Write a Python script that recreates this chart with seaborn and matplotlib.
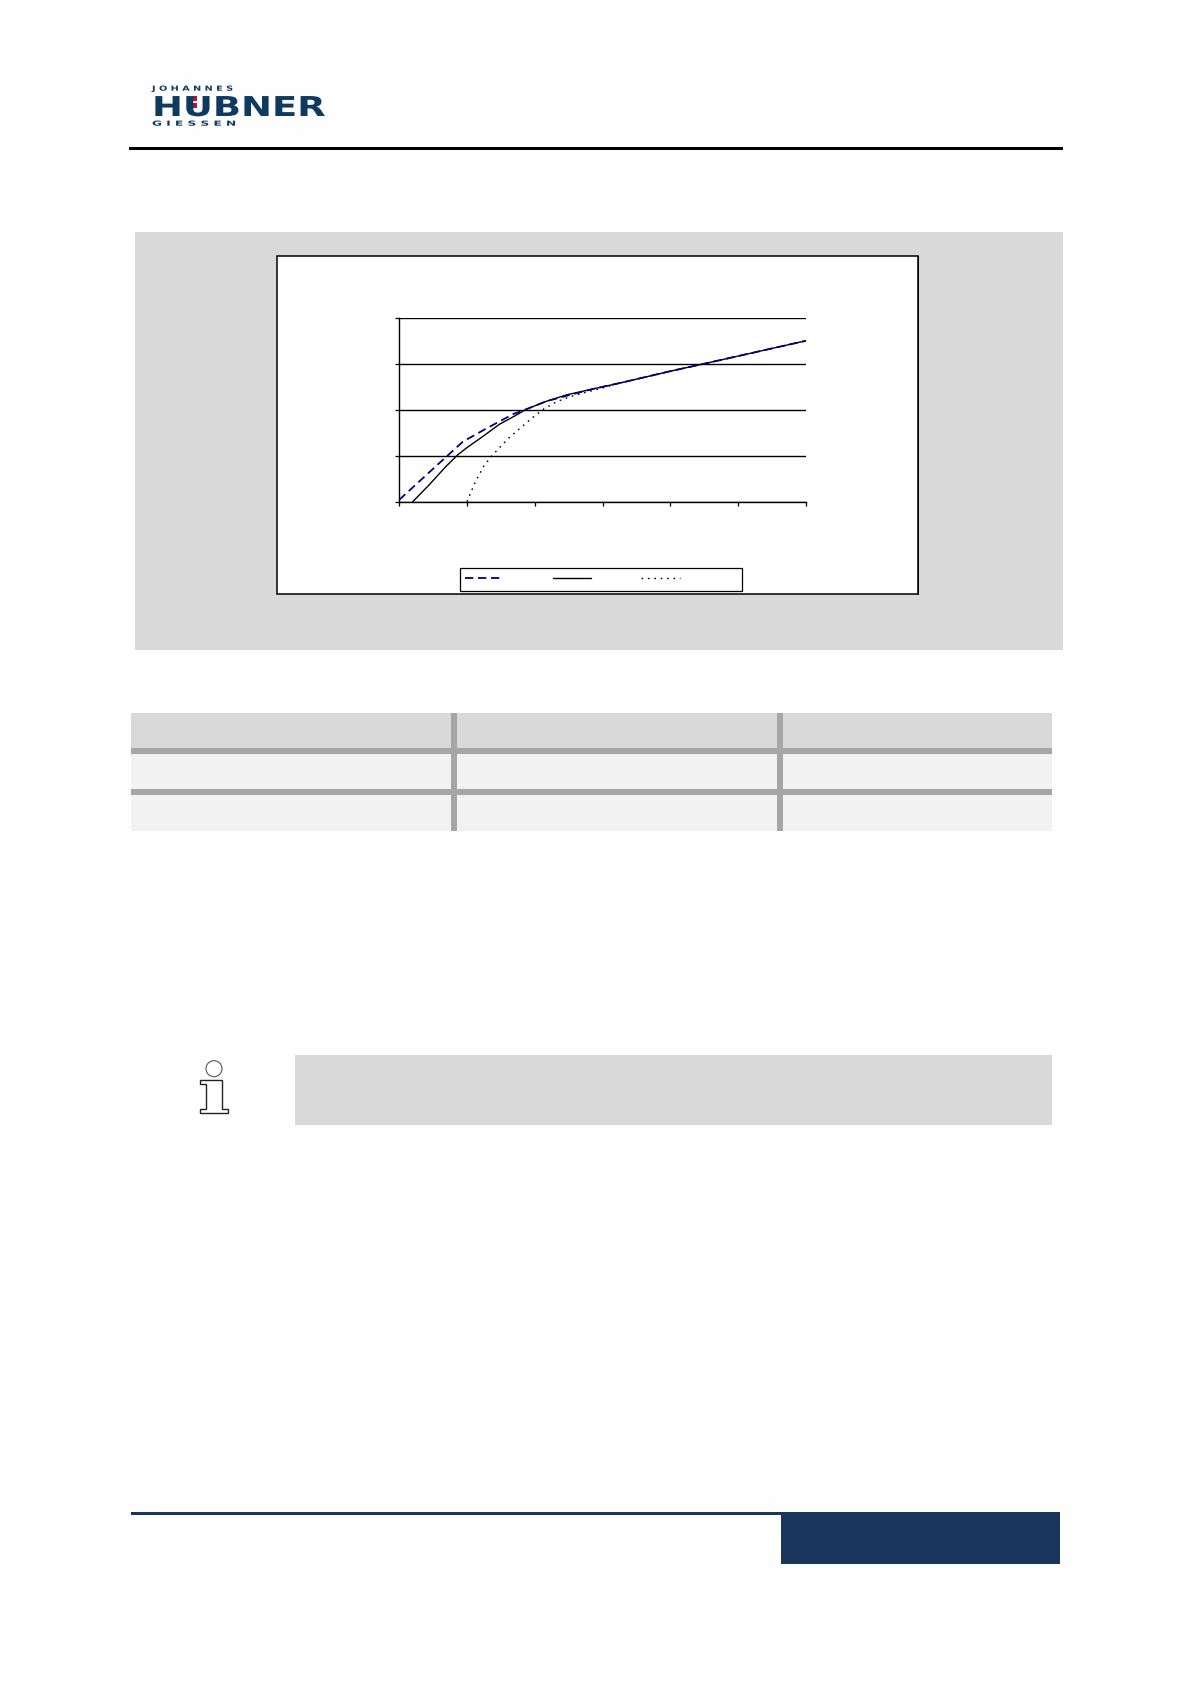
import matplotlib
matplotlib.use("Agg")
import matplotlib.pyplot as plt
import pandas as pd
import seaborn as sns
from matplotlib.patches import Circle, Polygon, Rectangle
from matplotlib.patheffects import AbstractPathEffect
from matplotlib.transforms import Affine2D

W, H = 1191, 1684
NAVY = "#1a365d"
LOGO = "#0f3a60"

x_ticks = [0, 1, 2, 3, 4, 5, 6]
y_ticks = [0, 1, 2, 3, 4]

dashed_x = [0, 0.25, 0.62, 0.94, 1.29, 1.68, 1.88, 2.17, 2.47, 2.86, 3.26, 4.01, 4.47, 6.0]
dashed_y = [0.04, 0.38, 0.88, 1.31, 1.60, 1.91, 2.02, 2.19, 2.31, 2.46, 2.59, 2.85, 3.0, 3.51]
solid_x = [0.20, 0.45, 0.69, 0.87, 1.0, 1.24, 1.48, 1.68, 1.88, 2.17, 2.47, 2.86, 3.26, 4.01, 4.47, 6.0]
solid_y = [0, 0.38, 0.77, 1.03, 1.18, 1.43, 1.69, 1.85, 2.02, 2.19, 2.33, 2.46, 2.59, 2.85, 3.0, 3.51]
dotted_x = [1.0, 1.11, 1.24, 1.36, 1.48, 1.61, 1.78, 1.98, 2.12, 2.32, 2.52, 2.76, 3.05, 3.26, 4.01, 4.47, 6.0]
dotted_y = [0, 0.39, 0.76, 0.99, 1.18, 1.38, 1.60, 1.85, 2.01, 2.18, 2.29, 2.39, 2.50, 2.59, 2.85, 3.0, 3.51]


class StretchX(AbstractPathEffect):
    # the logo lettering is wider than any installed font
    def __init__(self, factor):
        super().__init__()
        self.factor = factor

    def draw_path(self, renderer, gc, tpath, affine, rgbFace=None):
        renderer.draw_path(gc, tpath, Affine2D().scale(self.factor, 1) + affine, rgbFace)


def box(ax, x0, y0, x1, y1, color, **kwargs):
    ax.add_patch(Rectangle((x0, y0), x1 - x0, y1 - y0, facecolor=color, edgecolor="none", **kwargs))


sns.set_theme(style="white")
fig = plt.figure(figsize=(W / 100, H / 100), dpi=100, facecolor="#fefefe")

# page furniture, drawn in pixel coordinates
page = fig.add_axes([0, 0, 1, 1], zorder=0)
page.set_xlim(0, W)
page.set_ylim(H, 0)
page.axis("off")

box(page, 129, 147, 1063, 150, "black")
box(page, 135, 232, 1063, 650, "#d9d9d9")
page.add_patch(Rectangle((276.5, 255.5), 641.5, 338.5, facecolor="white", edgecolor="black", linewidth=1.1))
box(page, 917.5, 256, 919, 595, "black")
page.add_patch(Rectangle((459.5, 567.5), 282, 23, facecolor="white", edgecolor="black", linewidth=0.9))

box(page, 131, 713, 1052, 748, "#d9d9d9")
box(page, 131, 754, 1052, 789, "#f2f2f2")
box(page, 131, 795, 1052, 831, "#f2f2f2")
box(page, 131, 748, 1052, 754, "#a6a6a6")
box(page, 131, 789, 1052, 795, "#a6a6a6")
box(page, 451, 713, 457, 831, "#a6a6a6")
box(page, 777, 713, 783, 831, "#a6a6a6")

box(page, 295, 1055, 1052, 1125, "#d9d9d9")
page.add_patch(Circle((214, 1068.7), 8, facecolor="white", edgecolor="#555555", linewidth=0.8))
icon = [(200.3, 1080.3), (221.7, 1080.3), (221.7, 1109.3), (227.7, 1109.3), (227.7, 1113.3),
        (200.3, 1113.3), (200.3, 1109.3), (206.3, 1109.3), (206.3, 1084.3), (200.3, 1084.3)]
page.add_patch(Polygon(icon, closed=True, facecolor="white", edgecolor="#222222", linewidth=1.0))

box(page, 131, 1512, 781, 1515, NAVY)
box(page, 781, 1512, 1060, 1564, NAVY)

page.text(152, 90.7, "J O H A N N E S", color=LOGO, fontsize=5, fontweight="bold", va="baseline",
          family="DejaVu Sans", path_effects=[StretchX(1.4)])
page.text(152, 125.7, "G I E S S E N", color=LOGO, fontsize=5, fontweight="bold", va="baseline",
          family="DejaVu Sans", path_effects=[StretchX(1.75)])
logo = page.text(152, 116, "HÜBNER", color=LOGO, fontsize=19.7, fontweight="bold", va="baseline",
                 family="DejaVu Sans", clip_on=True, path_effects=[StretchX(1.35)])
logo.set_clip_path(Rectangle((140, 96), 200, 22, transform=page.transData))
box(page, 191.5, 96, 196.5, 101, "#b3123f")
box(page, 191.5, 102.5, 196.5, 107.5, "#b3123f")

# the chart itself
left, right, top, bottom = 399.2, 806, 318.3, 501.7
ax = fig.add_axes([left / W, 1 - bottom / H, (right - left) / W, (bottom - top) / H], zorder=1)
ax.patch.set_alpha(0)

dashed = pd.DataFrame({"x": dashed_x, "y": dashed_y})
solid = pd.DataFrame({"x": solid_x, "y": solid_y})
dotted = pd.DataFrame({"x": dotted_x, "y": dotted_y})

# solid goes first so the dashes stay visible where the three curves merge
sns.lineplot(data=solid, x="x", y="y", ax=ax, color="black", linewidth=1.0,
             estimator=None, sort=False)
sns.lineplot(data=dotted, x="x", y="y", ax=ax, color="black", linewidth=1.0,
             dashes=(1.2, 3.4), estimator=None, sort=False)
sns.lineplot(data=dashed, x="x", y="y", ax=ax, color="#000080", linewidth=1.3,
             dashes=(4.6, 2.6), estimator=None, sort=False)

ax.set_xlim(0, 6)
ax.set_ylim(0, 4)
ax.set_xticks(x_ticks)
ax.set_yticks(y_ticks)
ax.set_xticklabels([])
ax.set_yticklabels([])
ax.set_xlabel("")
ax.set_ylabel("")
ax.grid(axis="y", color="black", linewidth=1.0)
ax.set_axisbelow(True)
ax.tick_params(axis="both", direction="out", length=3, width=0.9, color="black", bottom=True, left=True)
for side in ["top", "right"]:
    ax.spines[side].set_visible(False)
for side in ["left", "bottom"]:
    ax.spines[side].set_color("black")
    ax.spines[side].set_linewidth(1.0)

lines = ax.get_lines()
fig.legend([lines[2], lines[0], lines[1]], ["", "", ""], ncol=3, frameon=False, fontsize=10,
           handlelength=2.75, handletextpad=0, columnspacing=3.6, borderpad=0, borderaxespad=0,
           loc="center left", bbox_to_anchor=(465 / W, 1 - 578.5 / H))

fig.savefig("out.png", dpi=100, facecolor=fig.get_facecolor())
